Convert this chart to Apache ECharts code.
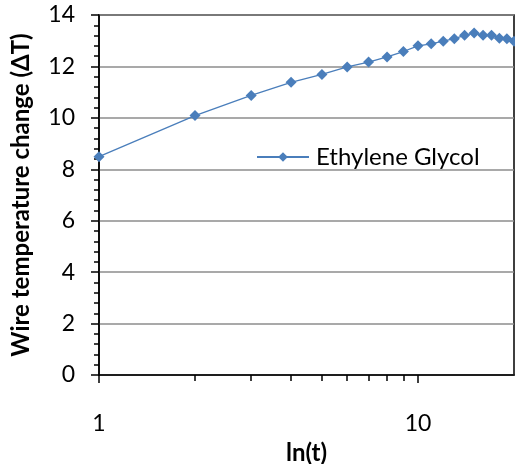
<!DOCTYPE html>
<html>
<head>
<meta charset="utf-8">
<script src="https://cdn.jsdelivr.net/npm/echarts@6/dist/echarts.min.js"></script>
<style>
  html, body { margin: 0; padding: 0; background: #fff; }
  #chart { width: 515px; height: 464px; }
</style>
</head>
<body>
<div id="chart"></div>
<script>
// 時間 t (對數軸)
const timeT = [1, 2, 3, 4, 5, 6, 7, 8, 9, 10, 11, 12, 13, 14, 15, 16, 17, 18, 19, 20];
// 溫度變化 ΔT
const deltaT = [8.49, 10.09, 10.87, 11.38, 11.69, 11.98, 12.17, 12.37, 12.58, 12.8,
  12.88, 12.98, 13.08, 13.21, 13.3, 13.21, 13.21, 13.1, 13.08, 12.98];
const yTicks = [0, 2, 4, 6, 8, 10, 12, 14];
const xMajorTicks = [1, 10];
const xMinorTicks = [2, 3, 4, 5, 6, 7, 8, 9];

const font = 'Lato, "Open Sans", sans-serif';
const chart = echarts.init(document.getElementById('chart'));

const baseX = {
  type: 'log',
  logBase: 10,
  min: 1,
  max: 20,
  splitLine: { show: false }
};

const option = {
  animation: false,
  textStyle: { fontFamily: font },
  grid: {
    left: 99, right: 1, top: 15, bottom: 89,
    outerBoundsMode: 'none',
    show: true, borderColor: '#000', borderWidth: 1.5
  },
  legend: {
    data: ['Ethylene Glycol'],
    left: 251, top: 140,
    itemWidth: 52, itemHeight: 12, itemGap: 0,
    textStyle: { fontSize: 24, color: '#000', fontFamily: font, padding: [0, 0, 0, 2] }
  },
  xAxis: [
    Object.assign({}, baseX, {
      name: 'ln(t)',
      nameLocation: 'middle',
      nameGap: 66,
      nameTextStyle: { fontSize: 24, fontWeight: 'bold', color: '#000', fontFamily: font },
      axisLine: { show: true, lineStyle: { color: '#000', width: 1.5 } },
      axisTick: { show: true, length: 8, customValues: xMajorTicks, lineStyle: { color: '#000', width: 1.5 } },
      axisLabel: { fontSize: 23, color: '#000', margin: 37, customValues: xMajorTicks }
    }),
    // 次刻度 2~9
    Object.assign({}, baseX, {
      position: 'bottom',
      axisLine: { show: false },
      axisTick: { show: true, length: 6, customValues: xMinorTicks, lineStyle: { color: '#000', width: 1.5 } },
      axisLabel: { show: false }
    })
  ],
  yAxis: {
    type: 'value',
    min: yTicks[0],
    max: yTicks[yTicks.length - 1],
    interval: 2,
    name: 'Wire temperature change (ΔT)',
    nameLocation: 'middle',
    nameGap: 66,
    nameTextStyle: { fontSize: 24, fontWeight: 'bold', color: '#000', fontFamily: font },
    axisLine: { show: true, lineStyle: { color: '#000', width: 1.5 } },
    axisTick: { show: true, length: 8, lineStyle: { color: '#000', width: 1.5 } },
    minorTick: { show: true, splitNumber: 5, length: 5, lineStyle: { color: '#000', width: 1.5 } },
    axisLabel: { fontSize: 23, color: '#000', margin: 24 },
    splitLine: { show: true, lineStyle: { color: '#8c8c8c', width: 1.5 } }
  },
  series: [{
    name: 'Ethylene Glycol',
    type: 'line',
    xAxisIndex: 0,
    data: timeT.map((t, i) => [t, deltaT[i]]),
    symbol: 'diamond',
    symbolSize: 11,
    itemStyle: { color: '#4a7ebb' },
    lineStyle: { color: '#4a7ebb', width: 1.3 },
    clip: false
  }]
};
chart.setOption(option);
</script>
</body>
</html>
